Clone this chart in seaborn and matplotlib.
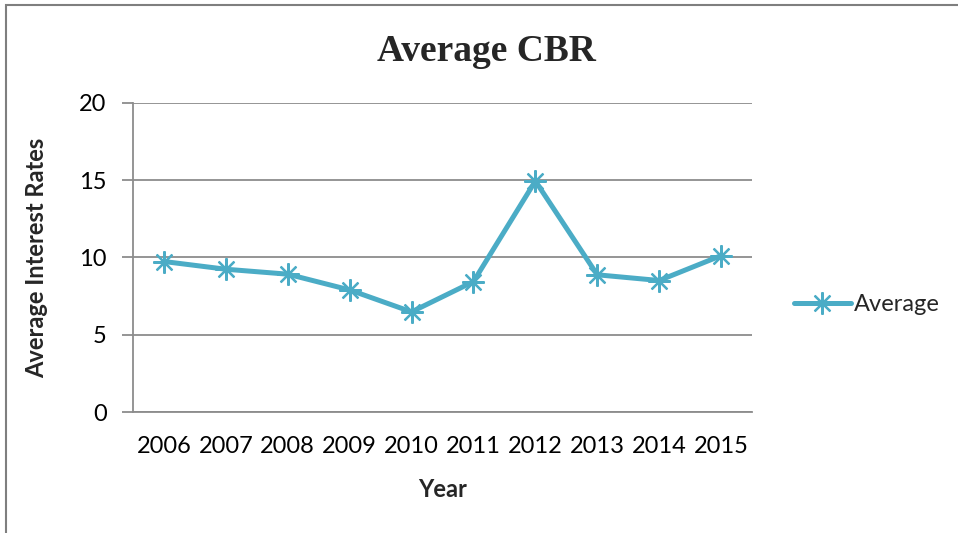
import matplotlib
matplotlib.use("Agg")
import matplotlib.pyplot as plt
import seaborn as sns
import pandas as pd
from matplotlib.patches import Rectangle
from matplotlib.lines import Line2D

# Average CBR by year
years = ["2006", "2007", "2008", "2009", "2010", "2011", "2012", "2013", "2014", "2015"]
average = [9.74, 9.24, 8.92, 7.90, 6.48, 8.44, 14.95, 8.88, 8.51, 10.12]
y_ticks = [0, 5, 10, 15, 20]

df = pd.DataFrame({"Year": years, "Average": average})

sns.set_style("white")
plt.rcParams["font.family"] = ["Lato", "DejaVu Sans"]

line_color = "#4BACC6"
grid_color = "#8C8C8C"

fig = plt.figure(figsize=(9.58, 5.33), dpi=100)
ax = fig.add_axes([0.1388, 0.227, 0.785 - 0.1388, 0.8068 - 0.227])

star = (8, 2, 0)
sns.lineplot(data=df, x="Year", y="Average", ax=ax, color=line_color,
             linewidth=3.6, marker=star, markersize=16, markeredgewidth=1.6,
             markeredgecolor=line_color, sort=False, legend=False, zorder=3)

ax.set_xlim(-0.5, len(years) - 0.5)
ax.set_ylim(0, 20)
ax.set_yticks(y_ticks)
ax.yaxis.grid(True, color=grid_color, linewidth=1.3)
ax.xaxis.grid(False)
for side in ["top", "right"]:
    ax.spines[side].set_visible(False)
for side in ["left", "bottom"]:
    ax.spines[side].set_color(grid_color)
    ax.spines[side].set_linewidth(1.3)

ax.tick_params(axis="y", which="major", left=True, length=8, width=1.3,
               color=grid_color, pad=11, labelsize=17, labelcolor="black")
ax.tick_params(axis="x", which="major", bottom=False, pad=14, labelsize=17,
               labelcolor="black")

ax.set_xlabel("Year", fontsize=17, fontweight="bold", labelpad=15)
ax.set_ylabel("Average Interest Rates", fontsize=17, fontweight="bold", labelpad=22)

fig.text(0.508, 0.904, "Average CBR", ha="center", va="center",
         fontsize=27, fontweight="bold", family=["Liberation Serif"])

handle = Line2D([], [], color=line_color, linewidth=3.6, marker=star,
                markersize=16, markeredgewidth=1.6, markeredgecolor=line_color)
fig.legend([handle], ["Average"], loc="center left",
           bbox_to_anchor=(0.819, 0.428), frameon=False, fontsize=17,
           handlelength=2.4, handletextpad=0.15, borderaxespad=0)

# chart area frame
fig.patches.append(Rectangle((6 / 958, -0.05), 1.2, 1 - 5 / 533 + 0.05,
                             transform=fig.transFigure, fill=False,
                             edgecolor="#7F7F7F", linewidth=1.5))

fig.savefig("out.png", dpi=100)
